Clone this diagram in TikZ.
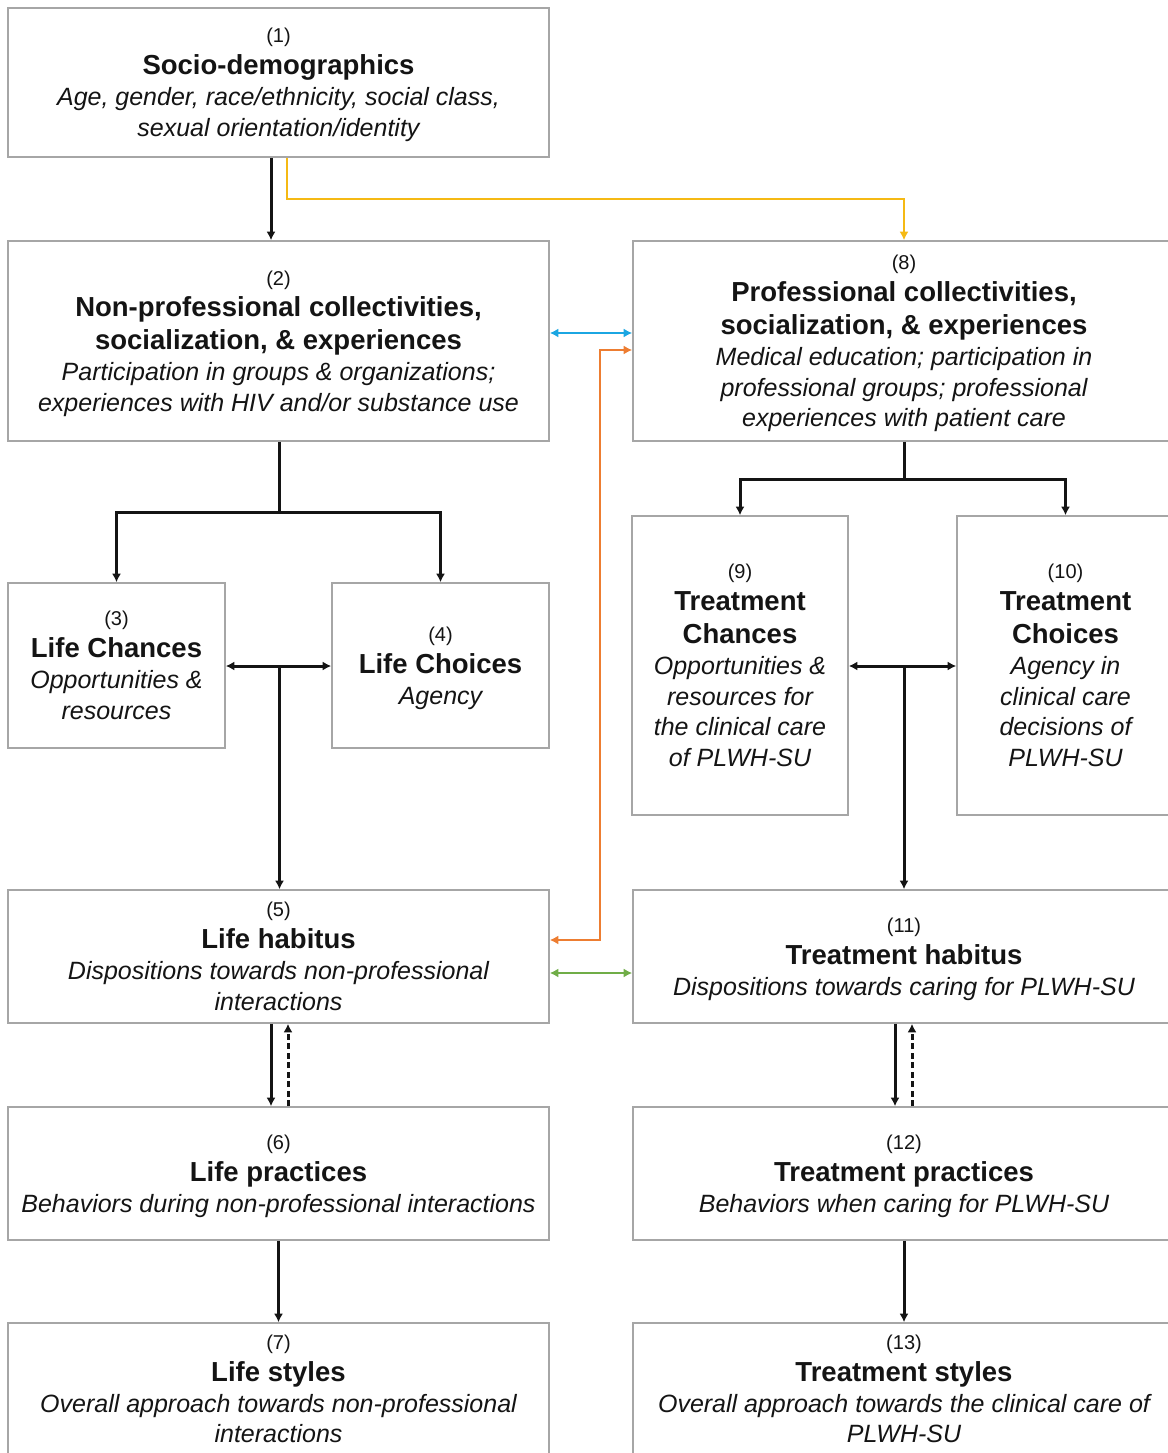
\documentclass[tikz,border=0pt]{standalone}
\usepackage{fontspec}
\setmainfont{Liberation Sans}
\usetikzlibrary{arrows.meta}
\definecolor{bordergray}{HTML}{A6A6A6}
\definecolor{yelc}{HTML}{F5B914}
\definecolor{bluc}{HTML}{1BA6E2}
\definecolor{orac}{HTML}{ED7D31}
\definecolor{grnc}{HTML}{70AD47}
\newcommand\numx[1]{{\fontsize{20}{20}\selectfont\upshape #1}}
\newcommand\ttlx[1]{{\fontsize{27.5}{27.5}\selectfont\bfseries\upshape #1}}
\tikzset{
  box/.style={draw=bordergray, line width=1.6pt, inner sep=0pt, align=center,
    font=\fontsize{25}{30.5}\selectfont\itshape, text=black!92},
  conn/.style={line width=3pt, draw=black!92},
  tipx/.tip={Latex[length=8.5pt,width=9pt]},
  arr/.style={conn, -tipx},
  arrs/.style={conn, tipx-tipx},
  colarr/.style={line width=2.8pt, draw=#1, tipx-tipx},
  dashx/.style={dash pattern=on 6pt off 3.5pt},
}
\begin{document}
\begin{tikzpicture}[x=1pt,y=-1pt]
\path[use as bounding box, fill=white] (0,0) rectangle (1167,1453);

% boxes
\node[box, minimum width=541pt, minimum height=149pt] (n1) at (278.5,82.5)
  {\numx{(1)}\\[1.5pt]\ttlx{Socio-demographics}\\[0.5pt]Age, gender, race/ethnicity, social class,\\\smash{sexual orientation/identity}};
\node[box, minimum width=541pt, minimum height=200pt] (n2) at (278.5,341)
  {\numx{(2)}\\[1.5pt]\ttlx{Non-professional collectivities,}\\[2.5pt]\ttlx{socialization, \& experiences}\\[0.5pt]Participation in groups \& organizations;\\\smash{experiences with HIV and/or substance use}};
\node[box, minimum width=542pt, minimum height=200pt] (n8) at (904,341)
  {\numx{(8)}\\[1.5pt]\ttlx{Professional collectivities,}\\[2.5pt]\ttlx{socialization, \& experiences}\\[0.5pt]Medical education; participation in\\professional groups; professional\\\smash{experiences with patient care}};
\node[box, minimum width=217pt, minimum height=165pt] (n3) at (116.5,665.5)
  {\numx{(3)}\\[1.5pt]\ttlx{Life Chances}\\[0.5pt]Opportunities \&\\resources};
\node[box, minimum width=217pt, minimum height=165pt] (n4) at (440.5,665.5)
  {\numx{(4)}\\[1.5pt]\ttlx{Life Choices}\\[0.5pt]\smash{Agency}};
\node[box, minimum width=216pt, minimum height=299pt] (n9) at (740,665.5)
  {\numx{(9)}\\[1.5pt]\ttlx{Treatment}\\[2.5pt]\ttlx{Chances}\\[0.5pt]Opportunities \&\\resources for\\the clinical care\\of PLWH-SU};
\node[box, minimum width=217pt, minimum height=299pt] (n10) at (1065.5,665.5)
  {\numx{(10)}\\[1.5pt]\ttlx{Treatment}\\[2.5pt]\ttlx{Choices}\\[0.5pt]Agency in\\clinical care\\decisions of\\PLWH-SU};
\node[box, minimum width=541pt, minimum height=133pt] (n5) at (278.5,956.5)
  {\numx{(5)}\\[1.5pt]\ttlx{Life habitus}\\[0.5pt]Dispositions towards non-professional\\interactions};
\node[box, minimum width=542pt, minimum height=133pt] (n11) at (904,956.5)
  {\numx{(11)}\\[1.5pt]\ttlx{Treatment habitus}\\[0.5pt]\smash{Dispositions towards caring for PLWH-SU}};
\node[box, minimum width=541pt, minimum height=133pt] (n6) at (278.5,1173.5)
  {\numx{(6)}\\[1.5pt]\ttlx{Life practices}\\[0.5pt]\smash{Behaviors during non-professional interactions}};
\node[box, minimum width=542pt, minimum height=133pt] (n12) at (904,1173.5)
  {\numx{(12)}\\[1.5pt]\ttlx{Treatment practices}\\[0.5pt]\smash{Behaviors when caring for PLWH-SU}};
\node[box, minimum width=541pt, minimum height=132pt] (n7) at (278.5,1389)
  {\numx{(7)}\\[1.5pt]\ttlx{Life styles}\\[0.5pt]Overall approach towards non-professional\\interactions};
\node[box, minimum width=542pt, minimum height=132pt] (n13) at (904,1389)
  {\numx{(13)}\\[1.5pt]\ttlx{Treatment styles}\\[0.5pt]Overall approach towards the clinical care of\\PLWH-SU};

% helper coordinates
\coordinate (yc) at (600,199);
\coordinate (bc) at (591,333);
\coordinate (oa) at (600,940);
\coordinate (ob) at (600,350);
\coordinate (gc) at (591,973);
\coordinate (fL) at (279.5,512);
\coordinate (jL) at (279.5,666);
\coordinate (fR) at (904,479);
\coordinate (jR) at (904,666);

% 1 -> 2 and 1 -> 8
\draw[arr] ([xshift=-7.5pt]n1.south) -- ([xshift=-7.5pt]n2.north);
\draw[line width=2.8pt, draw=yelc, -tipx] ([xshift=8.5pt]n1.south) |- (yc) -| (n8.north);

% cross links
\draw[colarr=bluc] (n2.east |- bc) -- (n8.west |- bc);
\draw[colarr=orac] (n5.east |- oa) -- (oa) -- (ob) -- (n8.west |- ob);
\draw[colarr=grnc] (n5.east |- gc) -- (n11.west |- gc);

% left fork
\draw[conn] (fL |- n2.south) -- (fL);
\draw[arr] (fL) -| (n3.north);
\draw[arr] (fL) -| (n4.north);
\draw[arrs] (n3.east |- jL) -- (n4.west |- jL);
\draw[arr] (jL) -- (jL |- n5.north);

% right fork
\draw[conn] (n8.south) -- (fR);
\draw[arr] (fR) -| (n9.north);
\draw[arr] (fR) -| (n10.north);
\draw[arrs] (n9.east |- jR) -- (n10.west |- jR);
\draw[arr] (jR) -- (jR |- n11.north);

% habitus <-> practices
\draw[arr] ([xshift=-7.5pt]n5.south) -- ([xshift=-7.5pt]n6.north);
\draw[arr, dashx] ([xshift=9.5pt]n6.north) -- ([xshift=9.5pt]n5.south);
\draw[arr] ([xshift=-9pt]n11.south) -- ([xshift=-9pt]n12.north);
\draw[arr, dashx] ([xshift=8pt]n12.north) -- ([xshift=8pt]n11.south);

% practices -> styles
\draw[arr] (n6.south) -- (n7.north);
\draw[arr] (n12.south) -- (n13.north);
\end{tikzpicture}
\end{document}
